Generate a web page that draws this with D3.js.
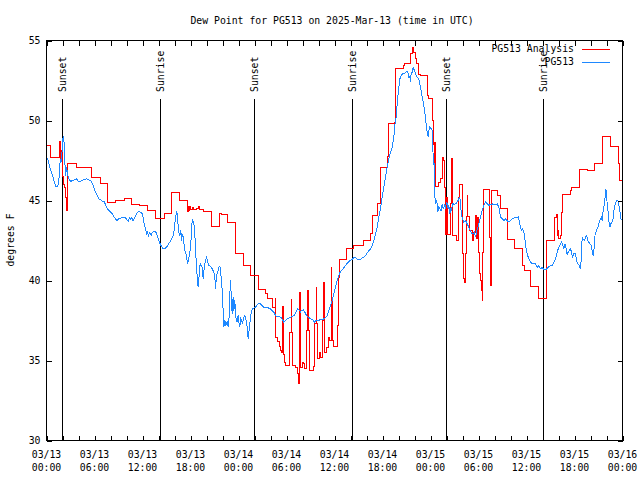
<!DOCTYPE html>
<html><head><meta charset="utf-8">
<script src="https://cdn.jsdelivr.net/npm/d3@7"></script>
<style>
body{margin:0;background:#fff}
text{font-family:"DejaVu Sans Mono","Liberation Mono",monospace;font-size:9.8px;fill:#000}
</style>
</head><body><svg id="c" width="640" height="480"></svg>
<script>
// ---- data (hours after 2025-03-13 00:00 UTC, degrees F) ----
const analysisSeries = [[0,48.44],[0.5,47.7],[1.6,48.2],[1.67,48.7],[1.75,47.5],[1.85,48.1],[1.95,47.9],[2.05,46.5],[2.15,46.0],[2.25,45.8],[2.35,45.2],[2.45,44.4],[2.58,47.3],[3.7,47.04],[5.58,46.46],[6.7,46.06],[7.6,44.88],[8.65,45.0],[9.7,45.15],[10.6,44.75],[11.6,44.7],[12.6,44.4],[13.65,43.85],[14.7,44.17],[15.6,45.48],[16.6,45.0],[17.6,44.3],[17.7,44.6],[17.8,44.35],[17.9,44.65],[18.0,44.45],[18.2,44.55],[18.4,44.45],[18.8,44.5],[19.0,44.6],[19.1,44.45],[19.67,44.33],[20.65,43.4],[21.6,44.2],[21.9,44.1],[22.6,43.6],[23.6,41.7],[24.6,40.94],[25.5,40.31],[26.54,39.42],[27.375,39.17],[27.67,38.85],[28.2,38.33],[28.6,38.85],[28.66,36.46],[28.9,36.2],[29.1,35.9],[29.25,35.6],[29.4,35.52],[29.56,38.4],[29.62,35.4],[29.75,34.9],[29.875,34.69],[30.42,36.77],[30.6,38.8],[30.67,36.77],[30.75,34.7],[31.125,34.58],[31.33,34.17],[31.5,33.58],[31.6,36.46],[31.65,39.27],[31.72,36.9],[31.8,34.58],[31.95,34.9],[32.17,34.8],[32.3,34.48],[32.45,36.875],[32.68,39.4],[32.75,36.875],[32.85,34.375],[33.4,34.6],[33.55,37.3],[33.72,39.58],[33.78,37.3],[33.85,35.1],[34.1,35.5],[34.3,35.2],[34.5,37.5],[34.64,39.9],[34.72,37.4],[34.8,35.5],[35.0,35.83],[35.2,36.46],[35.4,36.25],[35.6,40.83],[35.67,38.75],[35.75,36.25],[35.85,35.9],[36.42,37.2],[36.55,40.2],[36.62,41.29],[37.55,41.98],[38.4,42.19],[39.65,42.5],[40.5,42.92],[40.7,44.06],[41.4,44.8],[41.7,47.08],[42.6,47.75],[42.7,49.8],[43.5,49.9],[43.6,53.23],[44.6,53.44],[44.75,53.54],[45.5,54.17],[45.7,54.54],[45.9,54.27],[46.1,53.85],[46.3,53.54],[46.5,52.9],[46.7,52.8],[47.6,51.56],[47.8,51.35],[48.2,50.0],[48.4,48.5],[48.5,47.2],[48.55,48.6],[48.65,45.9],[49.0,46.15],[49.3,46.4],[49.45,47.7],[49.6,47.5],[49.8,45.8],[49.9,42.9],[50.05,45.2],[50.15,42.9],[50.45,43.5],[50.55,44.8],[50.6,47.6],[50.8,42.8],[51.25,42.5],[51.45,44.4],[51.55,45.2],[51.65,46.0],[51.95,44.5],[52.05,41.7],[52.15,40.1],[52.3,39.9],[52.4,41.7],[52.5,44.0],[52.58,45.3],[52.67,44.0],[52.9,43.1],[53.2,42.5],[53.33,43.0],[53.6,44.06],[53.75,42.6],[53.83,43.96],[53.96,41.77],[54.17,40.42],[54.25,40.0],[54.4,39.4],[54.46,38.75],[54.54,41.77],[54.6,45.67],[55.4,42.7],[55.5,39.7],[55.58,45.6],[56.4,45.3],[56.75,44.5],[57.65,42.55],[58.5,41.98],[59.5,40.94],[59.7,40.63],[60.5,39.63],[61.5,38.85],[62.45,42.5],[63.5,43.96],[63.7,44.1],[63.83,42.8],[63.96,43.1],[64.0,42.6],[64.25,42.8],[64.375,44.27],[64.54,45.375],[65.5,45.6],[65.6,45.8],[66.6,46.92],[67.6,46.875],[68.5,47.3],[69.45,49.02],[70.5,48.4],[71.5,47.33],[71.58,46.25],[72,46.25]];

const observedSeries = [[0,47.75],[0.21,47.5],[0.42,47.08],[0.625,46.77],[0.83,46.46],[1.04,46.04],[1.17,45.875],[1.375,45.875],[1.5,46.04],[1.58,46.46],[1.67,47.29],[1.75,47.5],[1.83,47.4],[1.92,47.8],[2.0,48.75],[2.08,48.96],[2.17,49.0],[2.21,48.33],[2.29,47.5],[2.375,46.56],[2.42,47.19],[2.5,46.77],[2.58,46.875],[2.71,46.46],[2.83,46.35],[3.0,46.2],[3.33,46.25],[3.75,46.35],[3.96,46.2],[4.17,46.19],[4.58,46.29],[5.0,46.35],[5.42,46.25],[5.625,46.2],[5.75,46.04],[5.92,45.83],[6.125,45.52],[6.33,45.31],[6.54,45.1],[6.75,45.04],[6.96,44.96],[7.17,44.96],[7.33,44.79],[7.5,44.58],[7.625,44.48],[7.79,44.375],[8.0,44.27],[8.21,44.17],[8.42,44.0],[8.625,43.85],[8.83,43.75],[9.04,43.85],[9.25,43.9],[9.67,43.96],[9.875,43.92],[10.08,43.79],[10.21,43.71],[10.42,43.96],[10.54,43.79],[10.67,43.96],[10.83,43.71],[10.96,43.85],[11.125,44.06],[11.33,44.21],[11.54,44.33],[11.75,44.27],[11.96,44.17],[12.08,43.96],[12.21,43.54],[12.375,43.23],[12.5,42.92],[12.625,43.02],[12.75,42.81],[12.92,43.02],[13.08,42.81],[13.25,43.02],[13.46,43.08],[13.67,43.02],[13.83,42.81],[13.96,42.6],[14.17,42.33],[14.375,42.125],[14.58,41.98],[14.79,41.98],[15.0,42.08],[15.21,42.25],[15.42,42.4],[15.625,42.56],[15.83,42.81],[15.96,43.125],[16.08,43.75],[16.21,44.17],[16.29,44.33],[16.375,43.96],[16.46,43.375],[16.58,42.92],[16.67,42.81],[16.79,43.125],[16.875,42.5],[17.0,42.92],[17.08,42.71],[17.21,42.19],[17.33,41.77],[17.5,41.56],[17.625,41.04],[17.75,41.25],[17.92,41.77],[18.04,42.29],[18.125,43.02],[18.21,43.75],[18.25,43.85],[18.42,43.54],[18.54,42.92],[18.67,41.56],[18.75,40.83],[18.875,40.0],[18.96,39.58],[19.04,40.0],[19.125,40.83],[19.25,41.04],[19.46,40.83],[19.58,40.1],[19.75,40.94],[19.875,41.25],[20.0,41.42],[20.17,41.15],[20.29,40.94],[20.5,40.875],[20.71,40.73],[20.92,40.52],[21.04,40.21],[21.125,39.48],[21.25,40.31],[21.42,40.52],[21.54,40.83],[21.67,40.875],[21.75,40.625],[21.875,40.0],[21.96,39.375],[22.08,38.125],[22.17,37.08],[22.29,37.5],[22.42,37.19],[22.58,37.4],[22.71,37.08],[22.83,37.71],[22.92,39.17],[23.0,40.0],[23.08,39.17],[23.21,37.92],[23.33,38.96],[23.42,38.125],[23.54,38.75],[23.67,37.71],[23.83,37.4],[23.96,37.81],[24.08,37.29],[24.17,37.08],[24.25,37.71],[24.375,37.5],[24.5,37.29],[24.67,37.71],[24.79,37.81],[24.92,37.6],[25.08,37.08],[25.21,36.35],[25.29,36.77],[25.42,37.29],[25.5,37.71],[25.625,38.125],[25.79,38.23],[26.125,38.33],[26.33,38.5],[26.54,38.58],[26.75,38.54],[26.96,38.44],[27.17,38.29],[27.58,38.33],[27.79,38.27],[28.0,38.23],[28.21,38.125],[28.42,38.02],[28.625,37.81],[28.83,37.75],[29.25,37.71],[29.46,37.6],[29.67,37.4],[29.875,37.5],[30.08,37.6],[30.5,37.71],[30.92,37.81],[31.125,37.92],[31.25,38.125],[31.42,38.23],[31.625,38.125],[31.75,38.02],[31.875,38.125],[32.08,38.17],[32.29,38.02],[32.5,37.81],[32.67,37.71],[33.08,37.6],[33.29,37.54],[33.5,37.4],[33.71,37.5],[34.25,37.54],[34.67,37.6],[34.875,37.67],[35.08,37.81],[35.29,38.125],[35.5,38.44],[35.71,38.75],[35.92,39.17],[36.125,39.58],[36.33,40.0],[36.54,40.31],[36.75,40.58],[36.96,40.67],[37.17,40.79],[37.375,40.94],[37.58,41.08],[37.79,41.19],[38.0,41.25],[38.21,41.31],[38.42,41.42],[38.625,41.42],[38.83,41.35],[39.04,41.29],[39.25,41.31],[39.46,41.42],[39.67,41.46],[39.875,41.56],[40.08,41.71],[40.29,41.875],[40.5,41.98],[40.71,42.19],[40.92,42.5],[41.125,42.92],[41.33,43.33],[41.54,43.96],[41.75,44.48],[41.96,45.21],[42.17,45.83],[42.375,46.46],[42.58,47.08],[42.79,47.6],[43.0,48.02],[43.21,48.33],[43.42,48.96],[43.54,49.69],[43.71,50.21],[43.83,51.04],[44.04,52.08],[44.17,52.6],[44.33,52.81],[44.54,52.92],[44.79,52.96],[45.0,53.06],[45.17,53.02],[45.29,52.71],[45.42,52.75],[45.5,52.4],[45.58,52.92],[45.71,53.02],[45.83,53.29],[46.0,53.125],[46.125,52.92],[46.33,52.71],[46.54,52.6],[46.75,52.08],[46.96,51.46],[47.17,50.94],[47.375,50.21],[47.5,49.48],[47.58,49.33],[47.71,49.0],[47.79,49.375],[47.92,49.625],[48.08,49.48],[48.21,49.375],[48.29,48.33],[48.375,47.19],[48.42,47.92],[48.46,46.77],[48.54,45.21],[48.67,44.79],[48.75,45.0],[48.83,44.79],[48.92,44.27],[49.04,44.58],[49.17,44.48],[49.33,44.375],[49.46,44.79],[49.58,44.48],[49.75,44.69],[49.875,44.48],[50.0,44.9],[50.08,44.79],[50.21,44.48],[50.29,44.69],[50.42,44.17],[50.5,44.48],[50.625,44.375],[50.75,44.83],[50.92,44.75],[51.125,44.79],[51.33,44.9],[51.54,45.1],[51.67,45.21],[51.75,44.58],[51.875,44.27],[51.96,43.85],[52.08,43.75],[52.17,43.65],[52.375,43.75],[52.58,43.54],[52.79,43.33],[52.92,43.17],[53.08,43.02],[53.21,42.92],[53.33,42.92],[53.5,43.02],[53.625,42.71],[53.75,43.02],[53.92,43.33],[54.08,43.65],[54.25,43.96],[54.46,44.375],[54.67,44.69],[54.875,44.9],[55.08,44.79],[55.29,44.69],[55.5,44.75],[55.71,44.79],[55.92,44.75],[56.125,44.75],[56.33,44.79],[56.54,44.58],[56.75,43.96],[57.17,43.75],[57.375,43.85],[57.58,43.75],[57.79,43.65],[58.0,43.75],[58.21,43.85],[58.625,43.96],[58.83,43.9],[58.96,43.96],[59.08,43.75],[59.25,43.33],[59.375,43.125],[59.5,43.23],[59.67,43.02],[59.79,42.6],[59.92,42.08],[60.08,41.67],[60.29,41.35],[60.5,41.15],[60.71,41.04],[60.92,41.08],[61.125,41.04],[61.33,40.83],[61.46,40.94],[61.625,40.83],[61.75,40.73],[61.96,40.83],[62.17,40.67],[62.58,40.73],[62.79,40.875],[63.21,40.94],[63.42,41.15],[63.625,41.35],[63.83,41.77],[64.04,42.08],[64.25,42.29],[64.375,42.4],[64.54,42.19],[64.67,41.98],[64.79,42.29],[64.96,41.98],[65.08,41.625],[65.21,41.77],[65.375,41.875],[65.5,41.98],[65.625,41.77],[65.75,41.46],[65.92,41.67],[66.125,41.67],[66.25,41.25],[66.42,41.04],[66.58,40.94],[66.75,40.73],[66.83,41.25],[66.96,42.71],[67.08,42.6],[67.25,42.5],[67.375,42.71],[67.5,42.81],[67.67,42.5],[67.79,42.4],[67.92,42.29],[68.08,42.19],[68.21,41.875],[68.33,41.56],[68.46,42.08],[68.58,42.92],[68.75,43.125],[68.92,43.33],[69.04,43.54],[69.17,43.75],[69.25,43.85],[69.375,43.96],[69.46,43.75],[69.58,44.375],[69.71,44.69],[69.83,45.21],[69.92,45.73],[70.0,45.52],[70.08,44.79],[70.17,44.48],[70.29,43.75],[70.42,43.33],[70.54,43.54],[70.67,43.65],[70.79,43.75],[70.92,44.375],[71.04,44.69],[71.17,44.9],[71.29,45.0],[71.42,45.0],[71.54,44.69],[71.67,44.375],[71.79,43.85],[72.0,43.79]];

const seriesNames = ["PG513 Analysis", "PG513"];
const seriesColors = ["#ff0000", "#1e88ff"];
const eventLabels = ["Sunset", "Sunrise", "Sunset", "Sunrise", "Sunset", "Sunrise"];
const eventHours = [2.0, 14.29, 26.04, 38.29, 50.03, 62.16];
const yTicks = [30, 35, 40, 45, 50, 55];
const titleText = "Dew Point for PG513 on 2025-Mar-13 (time in UTC)";
const yLabelText = "degrees F";

// ---- chart ----
const t0 = Date.UTC(2025, 2, 13, 0, 0);
const toDate = h => new Date(t0 + h * 3600e3);
const svg = d3.select("#c");
svg.append("rect").attr("width", 640).attr("height", 480).attr("fill", "#fff");

const L = 46, R = 622, T = 40, B = 440;
const x = d3.scaleUtc().domain([toDate(0), toDate(72)]).range([L, R]);
const y = d3.scaleLinear().domain([30, 55]).range([B, T]);

const g = svg.append("g").attr("transform", "translate(0.5,0.5)");

// sunrise / sunset markers
eventHours.forEach((h, i) => {
  const xp = Math.round(x(toDate(h)));
  g.append("line").attr("x1", xp).attr("x2", xp).attr("y1", 98).attr("y2", B)
    .attr("stroke", "#000").attr("stroke-width", 1).attr("shape-rendering", "crispEdges");
  svg.append("text").attr("transform", `translate(${xp + 0.5},92) rotate(-90)`)
    .attr("dy", "0.35em").attr("text-anchor", "start").text(eventLabels[i]);
});

// data lines
const lineA = d3.line().x(d => x(toDate(d[0]))).y(d => y(d[1])).curve(d3.curveStepAfter);
const lineO = d3.line().x(d => x(toDate(d[0]))).y(d => y(d[1]));
g.append("path").datum(analysisSeries).attr("d", lineA).attr("fill", "none")
  .attr("stroke", seriesColors[0]).attr("stroke-width", 1).attr("shape-rendering", "crispEdges");
g.append("path").datum(observedSeries).attr("d", lineO).attr("fill", "none")
  .attr("stroke", seriesColors[1]).attr("stroke-width", 1).attr("shape-rendering", "crispEdges");

// axes with inward ticks
const tickEvery = d3.utcHour.every(2);
function styleAxis(sel) {
  sel.select(".domain").remove();
  sel.selectAll("line").attr("stroke", "#000").attr("shape-rendering", "crispEdges");
  sel.selectAll("text").attr("fill", "#000").style("font-family", null).style("font-size", null)
    .attr("font-family", null).attr("font-size", null);
}
g.append("g").attr("transform", `translate(0,${B})`)
  .call(d3.axisBottom(x).ticks(tickEvery).tickSize(-5).tickFormat(""))
  .call(styleAxis).attr("font-family", null).attr("font-size", null);
g.append("g").attr("transform", `translate(0,${T})`)
  .call(d3.axisTop(x).ticks(tickEvery).tickSize(-5).tickFormat(""))
  .call(styleAxis).attr("font-family", null).attr("font-size", null);
g.append("g").attr("transform", `translate(${L},0)`)
  .call(d3.axisLeft(y).tickValues(yTicks).tickSize(-5).tickPadding(6))
  .call(styleAxis).attr("font-family", null).attr("font-size", null);
g.append("g").attr("transform", `translate(${R},0)`)
  .call(d3.axisRight(y).tickValues(yTicks).tickSize(-5).tickFormat(""))
  .call(styleAxis).attr("font-family", null).attr("font-size", null);

// x tick labels (two lines)
const fmtD = d3.utcFormat("%m/%d"), fmtT = d3.utcFormat("%H:%M");
x.ticks(d3.utcHour.every(6)).forEach(t => {
  const tx = svg.append("text").attr("x", x(t) + 0.5).attr("text-anchor", "middle");
  tx.append("tspan").attr("x", x(t) + 0.5).attr("y", 458).text(fmtD(t));
  tx.append("tspan").attr("x", x(t) + 0.5).attr("y", 471).text(fmtT(t));
});

// border
g.append("rect").attr("x", L).attr("y", T).attr("width", R - L).attr("height", B - T)
  .attr("fill", "none").attr("stroke", "#000").attr("shape-rendering", "crispEdges");

// title & y label
svg.append("text").attr("x", 332).attr("y", 24).attr("text-anchor", "middle").text(titleText);
svg.append("text").attr("transform", "translate(11,240) rotate(-90)").attr("dy", "0.35em")
  .attr("text-anchor", "middle").text(yLabelText);

// legend
const legY = [49, 62];
seriesNames.forEach((n, i) => {
  svg.append("text").attr("x", 574).attr("y", legY[i]).attr("dy", "0.35em")
    .attr("text-anchor", "end").text(n);
  svg.append("line").attr("x1", 582).attr("x2", 610).attr("y1", legY[i] + 0.5).attr("y2", legY[i] + 0.5)
    .attr("stroke", seriesColors[i]).attr("stroke-width", 1).attr("shape-rendering", "crispEdges");
});
</script></body></html>
